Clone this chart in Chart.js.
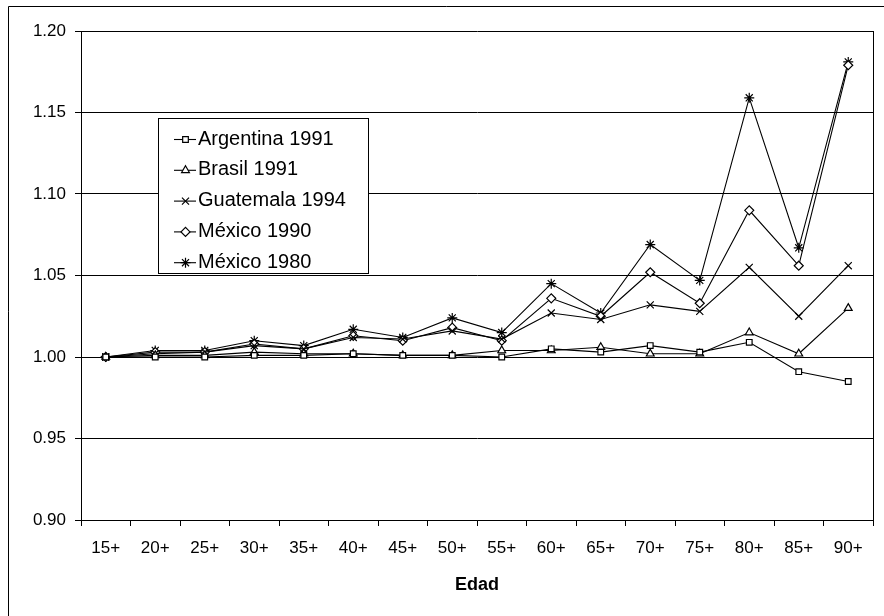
<!DOCTYPE html>
<html>
<head>
<meta charset="utf-8">
<script src="https://cdn.jsdelivr.net/npm/chart.js@4"></script>
<style>
  body { margin: 0; background: #fff; }
  canvas { display: block; }
</style>
</head>
<body>
<canvas id="grafico" width="884" height="616"></canvas>
<script>
// Edades y series
const categorias = ['15+', '20+', '25+', '30+', '35+', '40+', '45+', '50+', '55+', '60+', '65+', '70+', '75+', '80+', '85+', '90+'];
const argentina1991 = [1.000, 1.000, 1.000, 1.001, 1.001, 1.002, 1.001, 1.001, 1.000, 1.005, 1.003, 1.007, 1.003, 1.009, 0.991, 0.985];
const brasil1991    = [1.000, 1.001, 1.001, 1.003, 1.002, 1.002, 1.001, 1.001, 1.004, 1.004, 1.006, 1.002, 1.002, 1.015, 1.002, 1.030];
const guatemala1994 = [1.000, 1.002, 1.003, 1.007, 1.005, 1.012, 1.011, 1.016, 1.011, 1.027, 1.023, 1.032, 1.028, 1.055, 1.025, 1.056];
const mexico1990    = [1.000, 1.003, 1.003, 1.008, 1.005, 1.013, 1.010, 1.018, 1.010, 1.036, 1.025, 1.052, 1.033, 1.090, 1.056, 1.179];
const mexico1980    = [1.000, 1.004, 1.004, 1.010, 1.007, 1.017, 1.012, 1.024, 1.015, 1.045, 1.027, 1.069, 1.047, 1.159, 1.067, 1.181];
const etiquetasY = ['0.90', '0.95', '1.00', '1.05', '1.10', '1.15', '1.20'];

const FUENTE = "'Liberation Sans', Arial, sans-serif";

function serie(label, data, estilo, radio, relleno) {
    return {
        label: label, data: data,
        borderColor: '#000', borderWidth: 1.1,
        pointStyle: estilo, pointRadius: radio, pointHoverRadius: radio,
        pointBorderColor: '#000', pointBackgroundColor: relleno, pointBorderWidth: 1.2
    };
}

// leyenda dibujada dentro del área del gráfico
const leyenda = {
    id: 'leyenda',
    afterDraw(chart) {
        const ctx = chart.ctx;
        const ca = chart.chartArea;
        ctx.save();
        // marco exterior
        ctx.strokeStyle = '#000'; ctx.lineWidth = 1;
        ctx.beginPath();
        ctx.moveTo(8.5, 616); ctx.lineTo(8.5, 6.5); ctx.lineTo(884, 6.5);
        ctx.stroke();
        // borde derecho del área
        ctx.beginPath();
        ctx.moveTo(ca.right + 0.5, ca.top); ctx.lineTo(ca.right + 0.5, ca.bottom);
        ctx.stroke();

        const x0 = 158, y0 = 118, w = 210, h = 155;
        ctx.fillStyle = '#fff';
        ctx.fillRect(x0, y0, w, h);
        ctx.strokeRect(x0 + 0.5, y0 + 0.5, w, h);
        ctx.font = '20px ' + FUENTE;
        ctx.textBaseline = 'middle';
        chart.data.datasets.forEach((ds, i) => {
            const y = 139 + i * 30.8;
            ctx.strokeStyle = '#000'; ctx.lineWidth = 1.1;
            ctx.beginPath(); ctx.moveTo(174, y + 0.5); ctx.lineTo(196, y + 0.5); ctx.stroke();
            ctx.fillStyle = ds.pointBackgroundColor;
            ctx.lineWidth = 1.2;
            Chart.helpers.drawPoint(ctx, {
                pointStyle: ds.pointStyle, radius: ds.pointRadius, borderWidth: 1.2, rotation: 0
            }, 185.5, y + 0.5);
            ctx.fillStyle = '#000';
            ctx.fillText(ds.label, 198, y);
        });
        ctx.restore();
    }
};

new Chart(document.getElementById('grafico'), {
    type: 'line',
    data: {
        labels: categorias,
        datasets: [
            serie('Argentina 1991', argentina1991, 'rect', 4, '#fff'),
            serie('Brasil 1991', brasil1991, 'triangle', 4.5, '#fff'),
            serie('Guatemala 1994', guatemala1994, 'crossRot', 5, '#fff'),
            serie('México 1990', mexico1990, 'rectRot', 4.5, '#fff'),
            serie('México 1980', mexico1980, 'star', 5, '#000')
        ]
    },
    options: {
        responsive: false, animation: false,
        layout: { padding: { left: 0, top: 31, right: 11, bottom: 0 } },
        plugins: { legend: { display: false }, tooltip: { enabled: false } },
        scales: {
            x: {
                offset: true,
                afterFit(s) { s.height = 96; },
                grid: { display: true, drawOnChartArea: false, offset: true, color: '#000', tickLength: 6 },
                border: { display: true, color: '#000' },
                ticks: { color: '#000', padding: 12, font: { family: FUENTE, size: 17 }, maxRotation: 0, autoSkip: false },
                title: { display: true, text: 'Edad', color: '#000', font: { family: FUENTE, size: 18, weight: 'bold' }, padding: { top: 0, bottom: 20 } }
            },
            y: {
                min: 0.9, max: 1.2,
                afterFit(s) { s.width = 81; },
                afterBuildTicks(s) { s.ticks = etiquetasY.map(t => ({ value: parseFloat(t) })); },
                grid: { color: '#000', tickLength: 6 },
                border: { display: true, color: '#000' },
                ticks: {
                    color: '#000', padding: 9, font: { family: FUENTE, size: 17 },
                    callback: (v, i) => etiquetasY[i]
                }
            }
        }
    },
    plugins: [leyenda]
});
</script>
</body>
</html>
